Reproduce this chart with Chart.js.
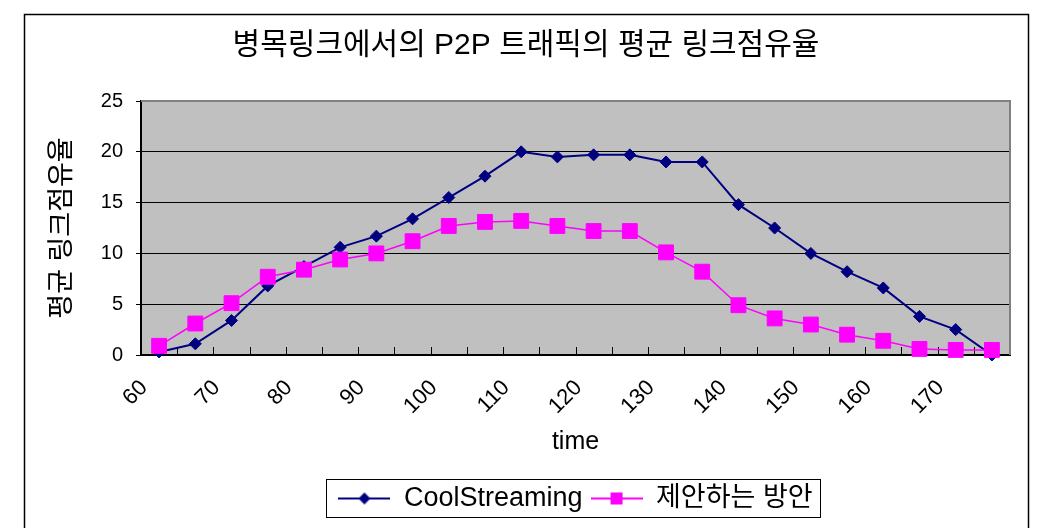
<!DOCTYPE html>
<html>
<head>
<meta charset="utf-8">
<script src="https://cdn.jsdelivr.net/npm/chart.js@4.4.0/dist/chart.umd.min.js"></script>
<style>
body { margin: 0; background: #fff; }
</style>
</head>
<body>
<canvas id="chartcanvas" width="1044" height="528"></canvas>
<script>
// x categories (time), every other one gets a label
var times = ['60','65','70','75','80','85','90','95','100','105','110','115',
             '120','125','130','135','140','145','150','155','160','165','170','175'];

// average link share per series
var coolStreaming = [0.3, 1.1, 3.4, 6.8, 8.7, 10.6, 11.7, 13.4, 15.5, 17.6, 20.0, 19.5,
                     19.7, 19.7, 19.0, 19.0, 14.8, 12.5, 10.0, 8.2, 6.6, 3.8, 2.5, 0.0];
var proposed = [0.9, 3.1, 5.1, 7.7, 8.4, 9.4, 10.0, 11.2, 12.7, 13.1, 13.2, 12.7,
                12.2, 12.2, 10.1, 8.2, 4.9, 3.6, 3.0, 2.0, 1.4, 0.6, 0.5, 0.5];

var yTicks = [0, 5, 10, 15, 20, 25];

var titleText = '병목링크에서의 P2P 트래픽의 평균 링크점유율';
var yTitle = '평균 링크점유율';
var xTitle = 'time';
var seriesNames = ['CoolStreaming', '제안하는 방안'];

Chart.defaults.font.family = '"Liberation Sans", "Noto Sans CJK KR", sans-serif';
Chart.defaults.color = '#000';

//legend symbol: line with the marker in the middle
function legendSymbol(color, shape) {
	var c = document.createElement('canvas');
	c.width = 52; c.height = 20;
	var g = c.getContext('2d');
	g.strokeStyle = color;
	g.lineWidth = 2;
	g.beginPath(); g.moveTo(0, 10); g.lineTo(52, 10); g.stroke();
	g.fillStyle = color;
	if (shape == 'diamond') {
		g.beginPath();
		g.moveTo(26, 4); g.lineTo(32, 10); g.lineTo(26, 16); g.lineTo(20, 10);
		g.closePath(); g.fill();
	} else {
		g.fillRect(20, 4, 12, 12);
	}
	return c;
}
var symbols = [legendSymbol('#000080', 'diamond'), legendSymbol('#FF00FF', 'square')];

//gray plot area, frame, inner tick marks, outer border and legend box
var frame = {
	id: 'frame',
	beforeDraw: function(chart) {
		var ctx = chart.ctx, a = chart.chartArea;
		ctx.save();
		ctx.fillStyle = '#C0C0C0';
		ctx.fillRect(a.left, a.top, a.right - a.left, a.bottom - a.top);
		ctx.restore();
	},
	beforeDatasetsDraw: function(chart) {
		var ctx = chart.ctx, a = chart.chartArea, xs = chart.scales.x;
		ctx.save();
		ctx.strokeStyle = '#808080';
		ctx.lineWidth = 2;
		ctx.beginPath();
		ctx.moveTo(a.left, a.top);
		ctx.lineTo(a.right, a.top);
		ctx.lineTo(a.right, a.bottom);
		ctx.stroke();
		ctx.strokeStyle = '#000';
		ctx.lineWidth = 1;
		ctx.beginPath();
		for (var i = 1; i < times.length; i++) {
			var px = Math.round(xs.getPixelForValue(i - 0.5)) + 0.5;
			ctx.moveTo(px, a.bottom);
			ctx.lineTo(px, a.bottom - 8);
		}
		ctx.stroke();
		ctx.restore();
	},
	afterDraw: function(chart) {
		var ctx = chart.ctx;
		ctx.save();
		ctx.strokeStyle = '#000';
		ctx.lineWidth = 1.5;
		ctx.beginPath();
		ctx.moveTo(24.5, 528);
		ctx.lineTo(24.5, 14.5);
		ctx.lineTo(1028.5, 14.5);
		ctx.lineTo(1028.5, 528);
		ctx.stroke();
		var hb = chart.legend.legendHitBoxes;
		var l = Math.min.apply(null, hb.map(function(h) { return h.left; }));
		var r = Math.max.apply(null, hb.map(function(h) { return h.left + h.width; }));
		ctx.lineWidth = 1;
		ctx.strokeRect(Math.round(l) - 11.5, Math.round(hb[0].top) - 5.5, Math.round(r - l) + 20, Math.round(hb[0].height) + 11);
		ctx.restore();
	}
};

var data = {
	labels: times,
	datasets: [
		{
			label: seriesNames[0],
			data: coolStreaming,
			borderColor: '#000080',
			backgroundColor: '#000080',
			borderWidth: 2,
			pointStyle: 'rectRot',
			pointRadius: 6,
			pointBorderWidth: 1,
			tension: 0,
			order: 2,
			clip: false
		},
		{
			label: seriesNames[1],
			data: proposed,
			borderColor: '#FF00FF',
			backgroundColor: '#FF00FF',
			borderWidth: 1.5,
			pointStyle: 'rect',
			pointRadius: 10.5,
			pointBorderWidth: 1,
			tension: 0,
			order: 1,
			clip: false
		}
	]
};

var options = {
	responsive: false,
	animation: false,
	devicePixelRatio: 1,
	layout: { padding: { left: 24, right: 16, top: 0, bottom: 6 } },
	plugins: {
		title: {
			display: true,
			text: titleText,
			color: '#000',
			font: { size: 30, weight: 'normal' },
			padding: { top: 28, bottom: 37 }
		},
		legend: {
			display: true,
			position: 'bottom',
			fullSize: false,
			labels: {
				usePointStyle: true,
				pointStyleWidth: 52,
				padding: 8,
				color: '#000',
				font: { size: 27 },
				generateLabels: function(chart) {
					return chart.data.datasets.map(function(ds, i) {
						return { text: ds.label, pointStyle: symbols[i], datasetIndex: i,
							fillStyle: ds.backgroundColor, strokeStyle: ds.borderColor, lineWidth: 0, hidden: false };
					});
				}
			}
		},
		tooltip: { enabled: false }
	},
	scales: {
		x: {
			offset: true,
			grid: { display: true, drawOnChartArea: false, drawTicks: false },
			border: { color: '#000', width: 2 },
			ticks: {
				autoSkip: false,
				minRotation: 45,
				maxRotation: 45,
				padding: 20,
				labelOffset: -15,
				font: { size: 22 },
				callback: function(value, index) {
					return index % 2 == 0 ? this.getLabelForValue(value) : '';
				}
			},
			title: { display: true, text: xTitle, font: { size: 25 }, padding: { top: 0, bottom: 20 } },
			afterFit: function(scale) { scale.height = 122; }
		},
		y: {
			min: 0,
			max: 25,
			afterBuildTicks: function(scale) {
				scale.ticks = yTicks.map(function(v) { return { value: v }; });
			},
			grid: {
				color: function(c) { return (c.tick && c.tick.value > 0 && c.tick.value < 25) ? '#000' : 'rgba(0,0,0,0)'; },
				lineWidth: 1,
				tickLength: 5,
				tickColor: '#000'
			},
			border: { color: '#000', width: 2 },
			ticks: { padding: 13, font: { size: 20 } },
			title: { display: true, text: yTitle, font: { size: 27 }, padding: { top: 22, bottom: 0 } },
			afterFit: function(scale) { scale.width = 117; }
		},
		//empty right axis only to keep the plot clear of the border
		y2: {
			position: 'right',
			grid: { display: false },
			border: { display: false },
			ticks: { display: false },
			afterFit: function(scale) { scale.width = 18; }
		}
	}
};

var chart = new Chart(document.getElementById('chartcanvas'), {
	type: 'line',
	data: data,
	options: options,
	plugins: [frame]
});
</script>
</body>
</html>
